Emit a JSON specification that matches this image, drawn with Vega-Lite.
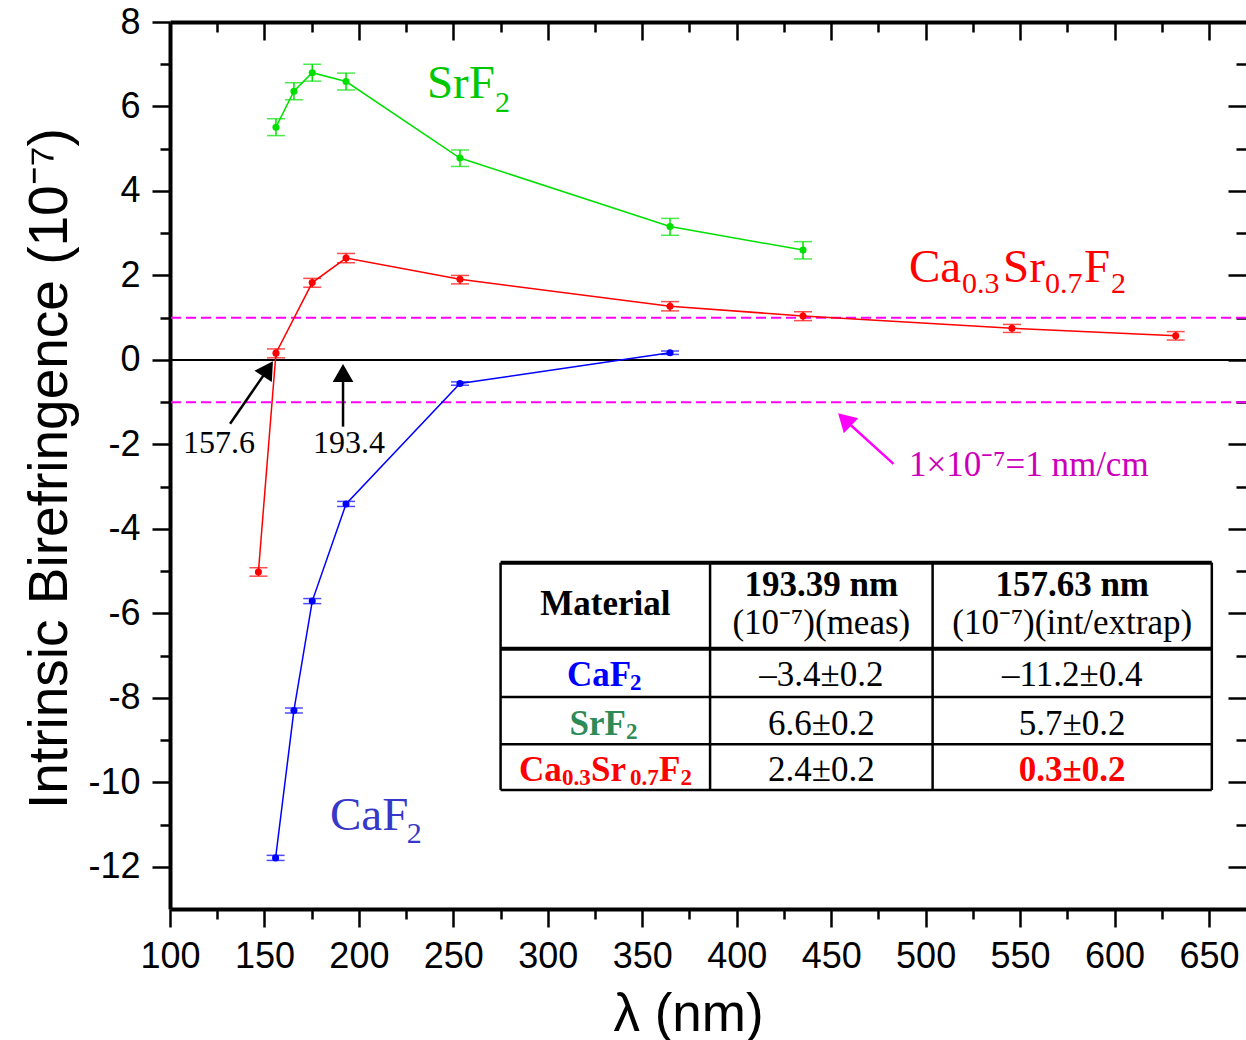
{
  "$schema": "https://vega.github.io/schema/vega-lite/v6.json",
  "width": 1076,
  "height": 887,
  "autosize": {"type": "none"},
  "padding": {"left": 170, "top": 22, "right": 0, "bottom": 131},
  "background": "white",
  "config": {
    "view": {"stroke": null},
    "axis": {"grid": false, "domainColor": "black", "tickColor": "black", "labelColor": "black", "titleColor": "black"}
  },
  "datasets": {
    "series": [
      {"s": "SrF2", "lam": 156.1, "b": 5.51, "lo": 5.31, "hi": 5.71},
      {"s": "SrF2", "lam": 165.6, "b": 6.36, "lo": 6.16, "hi": 6.56},
      {"s": "SrF2", "lam": 175.3, "b": 6.80, "lo": 6.60, "hi": 7.00},
      {"s": "SrF2", "lam": 193.2, "b": 6.59, "lo": 6.39, "hi": 6.79},
      {"s": "SrF2", "lam": 253.5, "b": 4.78, "lo": 4.58, "hi": 4.97},
      {"s": "SrF2", "lam": 364.7, "b": 3.16, "lo": 2.95, "hi": 3.35},
      {"s": "SrF2", "lam": 435.1, "b": 2.60, "lo": 2.39, "hi": 2.80},
      {"s": "Ca0.3Sr0.7F2", "lam": 146.8, "b": -5.02, "lo": -5.12, "hi": -4.92},
      {"s": "Ca0.3Sr0.7F2", "lam": 156.1, "b": 0.16, "lo": 0.05, "hi": 0.26},
      {"s": "Ca0.3Sr0.7F2", "lam": 175.3, "b": 1.83, "lo": 1.72, "hi": 1.93},
      {"s": "Ca0.3Sr0.7F2", "lam": 193.2, "b": 2.41, "lo": 2.30, "hi": 2.52},
      {"s": "Ca0.3Sr0.7F2", "lam": 253.5, "b": 1.91, "lo": 1.80, "hi": 2.00},
      {"s": "Ca0.3Sr0.7F2", "lam": 364.7, "b": 1.27, "lo": 1.16, "hi": 1.38},
      {"s": "Ca0.3Sr0.7F2", "lam": 435.1, "b": 1.04, "lo": 0.93, "hi": 1.14},
      {"s": "Ca0.3Sr0.7F2", "lam": 545.7, "b": 0.75, "lo": 0.65, "hi": 0.84},
      {"s": "Ca0.3Sr0.7F2", "lam": 632.4, "b": 0.57, "lo": 0.47, "hi": 0.67},
      {"s": "CaF2", "lam": 155.9, "b": -11.79, "lo": -11.85, "hi": -11.73},
      {"s": "CaF2", "lam": 165.6, "b": -8.30, "lo": -8.36, "hi": -8.24},
      {"s": "CaF2", "lam": 175.3, "b": -5.71, "lo": -5.77, "hi": -5.65},
      {"s": "CaF2", "lam": 193.2, "b": -3.41, "lo": -3.47, "hi": -3.35},
      {"s": "CaF2", "lam": 253.5, "b": -0.56, "lo": -0.60, "hi": -0.52},
      {"s": "CaF2", "lam": 364.7, "b": 0.17, "lo": 0.13, "hi": 0.21}
    ],
    "bigLabels": [
      {"x": 236.0, "y": 6.20, "t": "SrF", "k": "SrF2"},
      {"x": 184.7, "y": -11.12, "t": "CaF", "k": "CaF2"},
      {"x": 491.2, "y": 1.853, "t": "Ca", "k": "mix"},
      {"x": 541.0, "y": 1.853, "t": "Sr", "k": "mix"},
      {"x": 583.9, "y": 1.853, "t": "F", "k": "mix"}
    ],
    "subLabels": [
      {"x": 272.0, "y": 5.87, "t": "2", "k": "SrF2"},
      {"x": 225.3, "y": -11.44, "t": "2", "k": "CaF2"},
      {"x": 519.3, "y": 1.579, "t": "0.3", "k": "mix"},
      {"x": 563.2, "y": 1.579, "t": "0.7", "k": "mix"},
      {"x": 598.1, "y": 1.579, "t": "2", "k": "mix"}
    ],
    "tableCells": [
      {"x": 444.8, "y": -6.48, "t": "(10⁻⁷)(meas)"},
      {"x": 577.6, "y": -6.48, "t": "(10⁻⁷)(int/extrap)"},
      {"x": 444.8, "y": -7.73, "t": "–3.4±0.2"},
      {"x": 577.6, "y": -7.73, "t": "–11.2±0.4"},
      {"x": 444.8, "y": -8.88, "t": "6.6±0.2"},
      {"x": 577.6, "y": -8.88, "t": "5.7±0.2"},
      {"x": 444.8, "y": -9.98, "t": "2.4±0.2"}
    ],
    "tableBold": [
      {"x": 330.5, "y": -6.04, "t": "Material", "k": "head"},
      {"x": 444.8, "y": -5.59, "t": "193.39 nm", "k": "head"},
      {"x": 577.6, "y": -5.59, "t": "157.63 nm", "k": "head"},
      {"x": 577.6, "y": -9.98, "t": "0.3±0.2", "k": "mix"}
    ],
    "rowBig": [
      {"x": 310.2, "y": -7.73, "t": "CaF", "k": "CaF2"},
      {"x": 311.5, "y": -8.88, "t": "SrF", "k": "SrF2"},
      {"x": 284.8, "y": -9.98, "t": "Ca", "k": "mix"},
      {"x": 322.9, "y": -9.98, "t": "Sr", "k": "mix"},
      {"x": 358.9, "y": -9.98, "t": "F", "k": "mix"}
    ],
    "rowSub": [
      {"x": 343.5, "y": -7.82, "t": "2", "k": "CaF2"},
      {"x": 341.4, "y": -8.97, "t": "2", "k": "SrF2"},
      {"x": 307.5, "y": -10.07, "t": "0.3", "k": "mix"},
      {"x": 343.5, "y": -10.07, "t": "0.7", "k": "mix"},
      {"x": 370.2, "y": -10.07, "t": "2", "k": "mix"}
    ]
  },
  "resolve": {"axis": {"x": "independent", "y": "independent"}, "scale": {"color": "independent"}},
  "layer": [
    {
      "data": {"values": [{"y": 1}, {"y": -1}]},
      "mark": {"type": "rule", "color": "#FF00FF", "strokeWidth": 2, "strokeDash": [10, 5]},
      "encoding": {"y": {"field": "y", "type": "quantitative", "scale": {"domain": [-13, 8], "nice": false, "zero": false}, "axis": null}}
    },
    {
      "data": {"values": [{"y": 0}]},
      "mark": {"type": "rule", "color": "black", "strokeWidth": 2},
      "encoding": {"y": {"field": "y", "type": "quantitative", "scale": {"domain": [-13, 8], "nice": false, "zero": false}, "axis": null}}
    },
    {
      "data": {"name": "series"},
      "mark": {"type": "line", "strokeWidth": 1.5},
      "encoding": {
        "x": {"field": "lam", "type": "quantitative", "scale": {"domain": [100, 669.6], "nice": false, "zero": false},
          "axis": {"orient": "bottom", "values": [125, 175, 225, 275, 325, 375, 425, 475, 525, 575, 625], "tickSize": 10, "tickWidth": 2.5, "domain": false, "labels": false, "title": null}},
        "y": {"field": "b", "type": "quantitative", "scale": {"domain": [-13, 8], "nice": false, "zero": false},
          "axis": {"orient": "left", "values": [-11, -9, -7, -5, -3, -1, 1, 3, 5, 7], "tickSize": 10, "tickWidth": 2.5, "domain": false, "labels": false, "title": null}},
        "color": {"field": "s", "type": "nominal", "scale": {"domain": ["CaF2", "SrF2", "Ca0.3Sr0.7F2"], "range": ["#0000FF", "#00E000", "#FF0000"]}, "legend": null}
      }
    },
    {
      "data": {"name": "series"},
      "mark": {"type": "rule", "strokeWidth": 1.5},
      "encoding": {
        "x": {"field": "lam", "type": "quantitative", "scale": {"domain": [100, 669.6], "nice": false, "zero": false},
          "axis": {"orient": "top", "values": [100, 150, 200, 250, 300, 350, 400, 450, 500, 550, 600, 650], "tickSize": -18, "tickWidth": 2.5, "domain": true, "domainWidth": 4, "labels": false, "title": null}},
        "y": {"field": "lo", "type": "quantitative", "scale": {"domain": [-13, 8], "nice": false, "zero": false},
          "axis": {"orient": "right", "values": [-12, -10, -8, -6, -4, -2, 0, 2, 4, 6, 8], "tickSize": -18, "tickWidth": 2.5, "domain": false, "labels": false, "title": null}},
        "y2": {"field": "hi"},
        "color": {"field": "s", "type": "nominal", "scale": {"domain": ["CaF2", "SrF2", "Ca0.3Sr0.7F2"], "range": ["#0000FF", "#00E000", "#FF0000"]}, "legend": null}
      }
    },
    {
      "data": {"name": "series"},
      "transform": [{"fold": ["lo", "hi"], "as": ["end", "v"]}],
      "mark": {"type": "tick", "orient": "horizontal", "size": 18, "thickness": 1.5},
      "encoding": {
        "x": {"field": "lam", "type": "quantitative", "scale": {"domain": [100, 669.6], "nice": false, "zero": false},
          "axis": {"orient": "top", "values": [125, 175, 225, 275, 325, 375, 425, 475, 525, 575, 625], "tickSize": -10, "tickWidth": 2.5, "domain": false, "labels": false, "title": null}},
        "y": {"field": "v", "type": "quantitative", "scale": {"domain": [-13, 8], "nice": false, "zero": false},
          "axis": {"orient": "right", "values": [-11, -9, -7, -5, -3, -1, 1, 3, 5, 7], "tickSize": -10, "tickWidth": 2.5, "domain": false, "labels": false, "title": null}},
        "color": {"field": "s", "type": "nominal", "scale": {"domain": ["CaF2", "SrF2", "Ca0.3Sr0.7F2"], "range": ["#0000FF", "#00E000", "#FF0000"]}, "legend": null}
      }
    },
    {
      "data": {"name": "series"},
      "mark": {"type": "circle", "size": 50, "opacity": 1},
      "encoding": {
        "x": {"field": "lam", "type": "quantitative", "scale": {"domain": [100, 669.6], "nice": false, "zero": false},
          "axis": {"orient": "bottom", "values": [100, 150, 200, 250, 300, 350, 400, 450, 500, 550, 600, 650], "tickSize": 18, "tickWidth": 2.5, "domain": true, "domainWidth": 4,
            "labelFont": "Liberation Sans", "labelFontSize": 36, "labelPadding": 12, "labelFlush": false, "labelOverlap": false,
            "title": "λ (nm)", "titleFont": "Liberation Sans", "titleFontSize": 53, "titleFontWeight": "normal", "titleX": 518, "titleY": 121, "titleBaseline": "alphabetic", "titleAlign": "center"}},
        "y": {"field": "b", "type": "quantitative", "scale": {"domain": [-13, 8], "nice": false, "zero": false},
          "axis": {"orient": "left", "values": [-12, -10, -8, -6, -4, -2, 0, 2, 4, 6, 8], "tickSize": 18, "tickWidth": 2.5, "domain": true, "domainWidth": 4,
            "labelFont": "Liberation Sans", "labelFontSize": 36, "labelPadding": 12, "labelExpr": "'' + datum.value", "labelFlush": false, "labelOverlap": false,
            "title": "Intrinsic Birefringence (10⁻⁷)", "titleFont": "Liberation Sans", "titleFontSize": 55, "titleFontWeight": "normal", "titleAngle": -90, "titleX": -104, "titleY": 446, "titleBaseline": "alphabetic", "titleAlign": "center"}},
        "color": {"field": "s", "type": "nominal", "scale": {"domain": ["CaF2", "SrF2", "Ca0.3Sr0.7F2"], "range": ["#0000FF", "#00E000", "#FF0000"]}, "legend": null}
      }
    },
    {
      "data": {"values": [{"x": 131.8, "y": -1.51, "x2": 151.9, "y2": -0.21}, {"x": 191.6, "y": -1.58, "x2": 191.6, "y2": -0.31}]},
      "mark": {"type": "rule", "color": "black", "strokeWidth": 2.5},
      "encoding": {
        "x": {"field": "x", "type": "quantitative", "scale": {"domain": [100, 669.6], "nice": false, "zero": false}, "axis": null},
        "y": {"field": "y", "type": "quantitative", "scale": {"domain": [-13, 8], "nice": false, "zero": false}, "axis": null},
        "x2": {"field": "x2"},
        "y2": {"field": "y2"}
      }
    },
    {
      "data": {"values": [{"x": 483.0, "y": -2.46, "x2": 457.1, "y2": -1.41}]},
      "mark": {"type": "rule", "color": "#FF00FF", "strokeWidth": 2.5},
      "encoding": {
        "x": {"field": "x", "type": "quantitative", "scale": {"domain": [100, 669.6], "nice": false, "zero": false}, "axis": null},
        "y": {"field": "y", "type": "quantitative", "scale": {"domain": [-13, 8], "nice": false, "zero": false}, "axis": null},
        "x2": {"field": "x2"},
        "y2": {"field": "y2"}
      }
    },
    {
      "data": {"values": [{"x": 151.9, "y": -0.21}]},
      "mark": {"type": "point", "shape": "triangle-up", "filled": true, "color": "black", "opacity": 1, "size": 430, "angle": 33},
      "encoding": {
        "x": {"field": "x", "type": "quantitative", "scale": {"domain": [100, 669.6], "nice": false, "zero": false}, "axis": null},
        "y": {"field": "y", "type": "quantitative", "scale": {"domain": [-13, 8], "nice": false, "zero": false}, "axis": null}
      }
    },
    {
      "data": {"values": [{"x": 191.6, "y": -0.31}]},
      "mark": {"type": "point", "shape": "triangle-up", "filled": true, "color": "black", "opacity": 1, "size": 430, "angle": 0},
      "encoding": {
        "x": {"field": "x", "type": "quantitative", "scale": {"domain": [100, 669.6], "nice": false, "zero": false}, "axis": null},
        "y": {"field": "y", "type": "quantitative", "scale": {"domain": [-13, 8], "nice": false, "zero": false}, "axis": null}
      }
    },
    {
      "data": {"values": [{"x": 457.1, "y": -1.41}]},
      "mark": {"type": "point", "shape": "triangle-up", "filled": true, "color": "#FF00FF", "opacity": 1, "size": 430, "angle": -46},
      "encoding": {
        "x": {"field": "x", "type": "quantitative", "scale": {"domain": [100, 669.6], "nice": false, "zero": false}, "axis": null},
        "y": {"field": "y", "type": "quantitative", "scale": {"domain": [-13, 8], "nice": false, "zero": false}, "axis": null}
      }
    },
    {
      "data": {"values": [{"x": 125.9, "y": -2.20, "t": "157.6"}, {"x": 194.8, "y": -2.20, "t": "193.4"}]},
      "mark": {"type": "text", "font": "Liberation Serif", "fontSize": 32, "align": "center", "baseline": "alphabetic", "color": "black"},
      "encoding": {
        "x": {"field": "x", "type": "quantitative", "scale": {"domain": [100, 669.6], "nice": false, "zero": false}, "axis": null},
        "y": {"field": "y", "type": "quantitative", "scale": {"domain": [-13, 8], "nice": false, "zero": false}, "axis": null},
        "text": {"field": "t"}
      }
    },
    {
      "data": {"values": [{"x": 491.2, "y": -2.76, "t": "1×10⁻⁷=1 nm/cm"}]},
      "mark": {"type": "text", "font": "Liberation Serif", "fontSize": 35, "align": "left", "baseline": "alphabetic", "color": "#CC00BB"},
      "encoding": {
        "x": {"field": "x", "type": "quantitative", "scale": {"domain": [100, 669.6], "nice": false, "zero": false}, "axis": null},
        "y": {"field": "y", "type": "quantitative", "scale": {"domain": [-13, 8], "nice": false, "zero": false}, "axis": null},
        "text": {"field": "t"}
      }
    },
    {
      "data": {"name": "bigLabels"},
      "mark": {"type": "text", "font": "Liberation Serif", "fontSize": 47, "align": "left", "baseline": "alphabetic"},
      "encoding": {
        "x": {"field": "x", "type": "quantitative", "scale": {"domain": [100, 669.6], "nice": false, "zero": false}, "axis": null},
        "y": {"field": "y", "type": "quantitative", "scale": {"domain": [-13, 8], "nice": false, "zero": false}, "axis": null},
        "text": {"field": "t"},
        "color": {"field": "k", "type": "nominal", "scale": {"domain": ["SrF2", "CaF2", "mix"], "range": ["#00C800", "#3838C8", "#FF0000"]}, "legend": null}
      }
    },
    {
      "data": {"name": "subLabels"},
      "mark": {"type": "text", "font": "Liberation Serif", "fontSize": 30, "align": "left", "baseline": "alphabetic"},
      "encoding": {
        "x": {"field": "x", "type": "quantitative", "scale": {"domain": [100, 669.6], "nice": false, "zero": false}, "axis": null},
        "y": {"field": "y", "type": "quantitative", "scale": {"domain": [-13, 8], "nice": false, "zero": false}, "axis": null},
        "text": {"field": "t"},
        "color": {"field": "k", "type": "nominal", "scale": {"domain": ["SrF2", "CaF2", "mix"], "range": ["#00C800", "#3838C8", "#FF0000"]}, "legend": null}
      }
    },
    {
      "data": {"values": [{"x": 275.0, "x2": 651.5, "y": -4.80, "y2": -10.18}]},
      "mark": {"type": "rect", "color": "white", "opacity": 1},
      "encoding": {
        "x": {"field": "x", "type": "quantitative", "scale": {"domain": [100, 669.6], "nice": false, "zero": false}, "axis": null},
        "y": {"field": "y", "type": "quantitative", "scale": {"domain": [-13, 8], "nice": false, "zero": false}, "axis": null},
        "x2": {"field": "x2"},
        "y2": {"field": "y2"}
      }
    },
    {
      "data": {"values": [
        {"x": 275.0, "x2": 651.5, "y": -7.98, "y2": -7.98},
        {"x": 275.0, "x2": 651.5, "y": -9.10, "y2": -9.10},
        {"x": 275.0, "x2": 651.5, "y": -10.18, "y2": -10.18},
        {"x": 275.0, "x2": 275.0, "y": -4.80, "y2": -10.18},
        {"x": 385.9, "x2": 385.9, "y": -4.80, "y2": -10.18},
        {"x": 503.7, "x2": 503.7, "y": -4.80, "y2": -10.18},
        {"x": 651.5, "x2": 651.5, "y": -4.80, "y2": -10.18}
      ]},
      "mark": {"type": "rule", "color": "black", "strokeWidth": 2.5},
      "encoding": {
        "x": {"field": "x", "type": "quantitative", "scale": {"domain": [100, 669.6], "nice": false, "zero": false}, "axis": null},
        "y": {"field": "y", "type": "quantitative", "scale": {"domain": [-13, 8], "nice": false, "zero": false}, "axis": null},
        "x2": {"field": "x2"},
        "y2": {"field": "y2"}
      }
    },
    {
      "data": {"values": [
        {"x": 275.0, "x2": 651.5, "y": -4.80, "y2": -4.80},
        {"x": 275.0, "x2": 651.5, "y": -6.84, "y2": -6.84}
      ]},
      "mark": {"type": "rule", "color": "black", "strokeWidth": 4},
      "encoding": {
        "x": {"field": "x", "type": "quantitative", "scale": {"domain": [100, 669.6], "nice": false, "zero": false}, "axis": null},
        "y": {"field": "y", "type": "quantitative", "scale": {"domain": [-13, 8], "nice": false, "zero": false}, "axis": null},
        "x2": {"field": "x2"},
        "y2": {"field": "y2"}
      }
    },
    {
      "data": {"name": "tableCells"},
      "mark": {"type": "text", "font": "Liberation Serif", "fontSize": 35, "align": "center", "baseline": "alphabetic", "color": "black"},
      "encoding": {
        "x": {"field": "x", "type": "quantitative", "scale": {"domain": [100, 669.6], "nice": false, "zero": false}, "axis": null},
        "y": {"field": "y", "type": "quantitative", "scale": {"domain": [-13, 8], "nice": false, "zero": false}, "axis": null},
        "text": {"field": "t"}
      }
    },
    {
      "data": {"name": "tableBold"},
      "mark": {"type": "text", "font": "Liberation Serif", "fontSize": 35, "fontWeight": "bold", "align": "center", "baseline": "alphabetic"},
      "encoding": {
        "x": {"field": "x", "type": "quantitative", "scale": {"domain": [100, 669.6], "nice": false, "zero": false}, "axis": null},
        "y": {"field": "y", "type": "quantitative", "scale": {"domain": [-13, 8], "nice": false, "zero": false}, "axis": null},
        "text": {"field": "t"},
        "color": {"field": "k", "type": "nominal", "scale": {"domain": ["head", "mix"], "range": ["#000000", "#FF0000"]}, "legend": null}
      }
    },
    {
      "data": {"name": "rowBig"},
      "mark": {"type": "text", "font": "Liberation Serif", "fontSize": 35, "fontWeight": "bold", "align": "left", "baseline": "alphabetic"},
      "encoding": {
        "x": {"field": "x", "type": "quantitative", "scale": {"domain": [100, 669.6], "nice": false, "zero": false}, "axis": null},
        "y": {"field": "y", "type": "quantitative", "scale": {"domain": [-13, 8], "nice": false, "zero": false}, "axis": null},
        "text": {"field": "t"},
        "color": {"field": "k", "type": "nominal", "scale": {"domain": ["CaF2", "SrF2", "mix"], "range": ["#0000FF", "#2E8B57", "#FF0000"]}, "legend": null}
      }
    },
    {
      "data": {"name": "rowSub"},
      "mark": {"type": "text", "font": "Liberation Serif", "fontSize": 23, "fontWeight": "bold", "align": "left", "baseline": "alphabetic"},
      "encoding": {
        "x": {"field": "x", "type": "quantitative", "scale": {"domain": [100, 669.6], "nice": false, "zero": false}, "axis": null},
        "y": {"field": "y", "type": "quantitative", "scale": {"domain": [-13, 8], "nice": false, "zero": false}, "axis": null},
        "text": {"field": "t"},
        "color": {"field": "k", "type": "nominal", "scale": {"domain": ["CaF2", "SrF2", "mix"], "range": ["#0000FF", "#2E8B57", "#FF0000"]}, "legend": null}
      }
    }
  ]
}
